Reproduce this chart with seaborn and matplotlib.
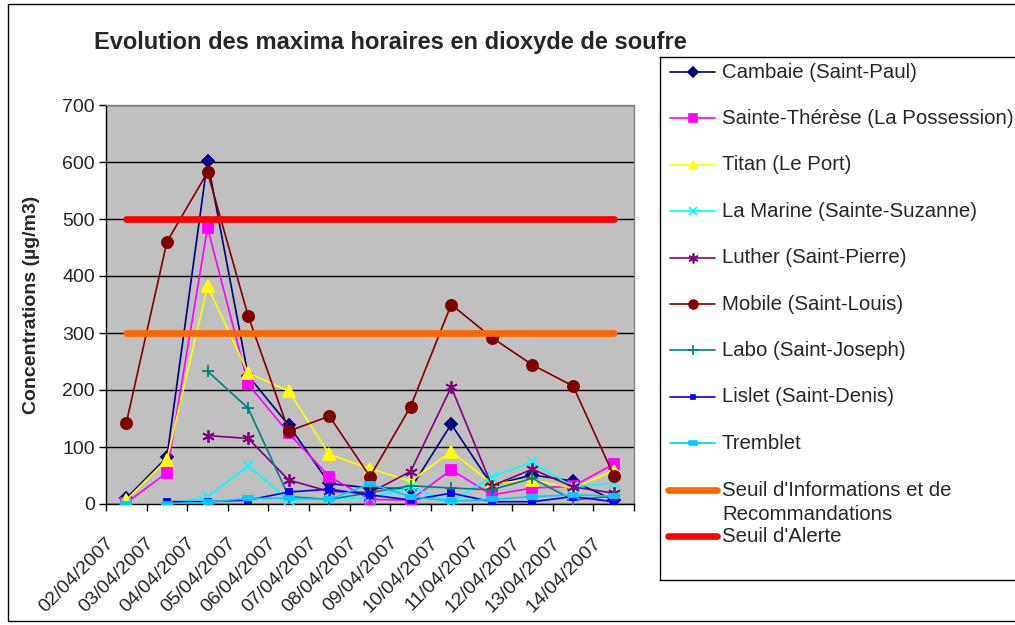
import numpy as np
import matplotlib
matplotlib.use("Agg")
import matplotlib.pyplot as plt
import matplotlib.transforms as mtransforms
from matplotlib.patches import Rectangle
import seaborn as sns

# --- data -----------------------------------------------------------------
dates = ["02/04/2007", "03/04/2007", "04/04/2007", "05/04/2007", "06/04/2007",
         "07/04/2007", "08/04/2007", "09/04/2007", "10/04/2007", "11/04/2007",
         "12/04/2007", "13/04/2007", "14/04/2007"]

nan = np.nan
cambaie = [10, 82, 602, 225, 138, 36, 28, 27, 140, 33, 51, 40, 7]
sainte_therese = [2, 55, 485, 210, 124, 48, 8, 7, 60, 16, 28, 31, 70]
titan = [7, 78, 382, 230, 198, 87, 62, 40, 92, 36, 42, 28, 58]
la_marine = [0, 0, 12, 67, 7, 10, 10, 30, 3, 48, 73, 30, 37]
luther = [nan, nan, 120, 115, 42, 22, 20, 57, 205, 32, 61, 30, 19]
mobile = [142, 460, 582, 330, 128, 154, 48, 171, 350, 292, 244, 207, 50]
labo = [nan, nan, 233, 168, 13, 8, 20, 32, 28, 25, 45, 7, 14]
lislet = [nan, 4, 4, 7, 21, 26, 16, 7, 19, 4, 4, 13, 4]
tremblet = [0, 0, 3, 10, 10, 8, 35, 13, 5, 8, 13, 16, 14]

seuil_info = 300
seuil_alerte = 500

title = "Evolution des maxima horaires en dioxyde de soufre"
ylabel = "Concentrations (µg/m3)"

# --- styles -----------------------------------------------------------------
long_dash = [(-1, -0.45), (1, -0.45), (1, 0.45), (-1, 0.45), (-1, -0.45)]
series = [
    ("Cambaie (Saint-Paul)", cambaie, "#000080", "D", 6),
    ("Sainte-Thérèse (La Possession)", sainte_therese, "#FF00FF", "s", 7),
    ("Titan (Le Port)", titan, "#FFFF00", "^", 8),
    ("La Marine (Sainte-Suzanne)", la_marine, "#00FFFF", "x", 7),
    ("Luther (Saint-Pierre)", luther, "#800080", (6, 2, 0), 9),
    ("Mobile (Saint-Louis)", mobile, "#800000", "o", 8),
    ("Labo (Saint-Joseph)", labo, "#008080", "+", 9),
    ("Lislet (Saint-Denis)", lislet, "#0000FF", "s", 4),
    ("Tremblet", tremblet, "#00CCFF", long_dash, 7),
]
thresholds = [
    ("Seuil d'Informations et de\nRecommandations", seuil_info, "#FF6600"),
    ("Seuil d'Alerte", seuil_alerte, "#FF0000"),
]

sns.set_style("white")
plt.rcParams["font.family"] = ["Liberation Sans", "DejaVu Sans"]

W, H = 1015, 625
fig = plt.figure(figsize=(W / 100, H / 100), dpi=100)
fig.patch.set_facecolor("white")

# outer chart frame
fig.add_artist(Rectangle((8 / W, 1 - 621 / H), 1.0, 617 / H,
                         transform=fig.transFigure, fill=False,
                         ec="black", lw=1))

ax = fig.add_axes([106 / W, 1 - 504 / H, 528 / W, 399 / H])
ax.set_facecolor("#C0C0C0")

pos = np.arange(len(dates))

for label, vals, color, marker, ms in series:
    sns.lineplot(x=pos, y=np.array(vals, dtype=float), ax=ax, color=color,
                 marker=marker, markersize=ms, markeredgecolor=color,
                 markerfacecolor=color, markeredgewidth=1.3, linewidth=1.2,
                 errorbar=None, legend=False, zorder=3)

for label, level, color in thresholds:
    sns.lineplot(x=pos, y=np.full(len(dates), level, dtype=float), ax=ax,
                 color=color, linewidth=4.8, solid_capstyle="round",
                 errorbar=None, legend=False, zorder=4)

# axes
ax.set_ylim(0, 700)
ax.set_yticks(range(0, 701, 100))
ax.yaxis.grid(True, color="black", linewidth=1)
ax.xaxis.grid(False)
ax.set_axisbelow(True)
ax.tick_params(axis="y", left=True, direction="out", length=5, width=1,
               color="black", labelsize=14, pad=3)

ax.set_xlim(-0.5, len(dates) - 0.5)
ax.set_xticks(np.arange(-0.5, len(dates), 1.0))
ax.set_xticklabels([])
ax.set_xticks(pos, labels=dates, minor=True)
ax.tick_params(axis="x", which="major", bottom=True, direction="out",
               length=5, width=1, color="black")
ax.tick_params(axis="x", which="minor", bottom=True, length=0, labelsize=14,
               pad=26)
shift = mtransforms.ScaledTranslation(-11 / 72, 0, fig.dpi_scale_trans)
for t in ax.get_xticklabels(minor=True):
    t.set_rotation(45)
    t.set_ha("right")
    t.set_va("center")
    t.set_rotation_mode("anchor")
    t.set_transform(t.get_transform() + shift)

for side in ("left", "bottom"):
    ax.spines[side].set_color("black")
    ax.spines[side].set_linewidth(1)
for side in ("top", "right"):
    ax.spines[side].set_color("#808080")
    ax.spines[side].set_linewidth(1)

ax.set_xlabel("")
ax.set_ylabel(ylabel, fontsize=14, fontweight="bold")
ax.yaxis.set_label_coords(-0.125, 0.5)

fig.text(390 / W, 1 - 42 / H, title, ha="center", va="center",
         fontsize=17, fontweight="bold")

# legend box
lax = fig.add_axes([660 / W, 1 - 580 / H, 360 / W, 523 / H])
lax.set_xlim(0, 360)
lax.set_ylim(523, 0)
lax.set_xticks([])
lax.set_yticks([])
lax.set_facecolor("white")
for sp in lax.spines.values():
    sp.set_color("black")
    sp.set_linewidth(1)

step = 46.4
for i, (label, vals, color, marker, ms) in enumerate(series):
    y = 15 + i * step
    lax.plot([10, 55], [y, y], color=color, lw=1.2)
    lax.plot([32.5], [y], marker=marker, color=color, markersize=ms * 0.8,
             markeredgecolor=color, markeredgewidth=1.2, linestyle="none")
    lax.text(62, y, label, va="center", ha="left", fontsize=14.7)

for j, (label, level, color) in enumerate(thresholds):
    y = 15 + (len(series) + j) * step
    lax.plot([8, 57], [y, y], color=color, lw=4.8, solid_capstyle="round")
    if "\n" in label:
        lax.text(62, y + 12.8, label, va="center", ha="left", fontsize=14.7,
                 linespacing=1.3)
    else:
        lax.text(62, y, label, va="center", ha="left", fontsize=14.7)

fig.savefig("out.png", dpi=100)
